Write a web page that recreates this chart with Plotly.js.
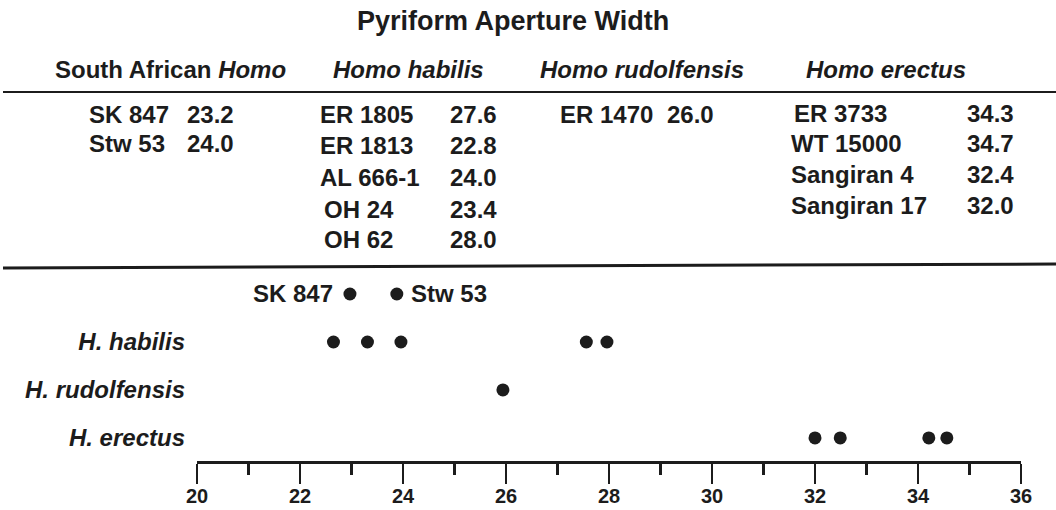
<!DOCTYPE html>
<html>
<head>
<meta charset="utf-8">
<script src="https://cdn.plot.ly/plotly-3.0.1.min.js"></script>
<style>html,body{margin:0;padding:0;background:#fff;}#chart{width:1056px;height:510px;}</style>
</head>
<body>
<div id="chart"></div>
<script>
// ---- Data ----
const chartTitle = 'Pyriform Aperture Width';
const groupHeaders = ['South African <i>Homo</i>', '<i>Homo habilis</i>', '<i>Homo rudolfensis</i>', '<i>Homo erectus</i>'];

const saNames = ['SK 847', 'Stw 53'];
const saValues = ['23.2', '24.0'];
const habilisNames = ['ER 1805', 'ER 1813', 'AL 666-1', 'OH 24', 'OH 62'];
const habilisValues = ['27.6', '22.8', '24.0', '23.4', '28.0'];
const rudolfensisNames = ['ER 1470'];
const rudolfensisValues = ['26.0'];
const erectusNames = ['ER 3733', 'WT 15000', 'Sangiran 4', 'Sangiran 17'];
const erectusValues = ['34.3', '34.7', '32.4', '32.0'];

// dot positions as drawn in the plot
const saDots = [22.97, 23.88];
const habilisDots = [22.65, 23.31, 23.96, 27.56, 27.96];
const rudolfensisDots = [25.94];
const erectusDots = [32.0, 32.49, 34.21, 34.56];

const rowLabels = ['H. habilis', 'H. rudolfensis', 'H. erectus'];
const xTickVals = [20, 22, 24, 26, 28, 30, 32, 34, 36];

// ---- Layout helpers ----
const W = 1056, H = 510;
const px = v => v / W;
const py = v => 1 - v / H;
const ink = '#1c1c1c';
const FONT = 'Liberation Sans, Arial, Helvetica, sans-serif';

const rowY = {SA: 3, habilis: 2, rudolfensis: 1, erectus: 0};

function dotTrace(xs, row) {
  return {
    type: 'scatter', mode: 'markers',
    x: xs, y: xs.map(() => row),
    marker: {size: 13, color: ink},
    hoverinfo: 'x', showlegend: false
  };
}

const data = [
  dotTrace(saDots, rowY.SA),
  dotTrace(habilisDots, rowY.habilis),
  dotTrace(rudolfensisDots, rowY.rudolfensis),
  dotTrace(erectusDots, rowY.erectus)
];

const annotations = [];
function txt(text, x, y, anchor, size, extra) {
  annotations.push(Object.assign({
    text: text, x: px(x), y: py(y), xref: 'paper', yref: 'paper',
    xanchor: anchor, yanchor: 'middle', showarrow: false,
    font: {family: FONT, size: size, color: ink, weight: 'bold'}
  }, extra || {}));
}

// title
txt('<b>' + chartTitle + '</b>', 513, 21, 'center', 27);
// group headers
const headerX = [170, 408, 642, 886];
groupHeaders.forEach((h, i) => txt('<b>' + h + '</b>', headerX[i], 70, 'center', 24));

// table columns
function column(names, values, nameX, valX, ys) {
  names.forEach((n, i) => {
    const nx = Array.isArray(nameX) ? nameX[i] : nameX;
    txt('<b>' + n + '</b>', nx, ys[i], 'left', 24);
    txt('<b>' + values[i] + '</b>', valX, ys[i], 'left', 24);
  });
}
column(saNames, saValues, 87, 185, [115, 143]);
column(habilisNames, habilisValues, [318, 318, 318, 322, 322], 448, [115, 145, 177, 209, 239]);
column(rudolfensisNames, rudolfensisValues, 558, 665, [115]);
column(erectusNames, erectusValues, [792, 789, 789, 789], 965, [113, 143, 174, 205]);

// labels beside the South African dots
annotations.push({
  text: '<b>' + saNames[0] + '</b>', x: saDots[0], y: rowY.SA, xref: 'x', yref: 'y',
  xanchor: 'right', yanchor: 'middle', xshift: -15, showarrow: false,
  font: {family: FONT, size: 24, color: ink}
});
annotations.push({
  text: '<b>' + saNames[1] + '</b>', x: saDots[1], y: rowY.SA, xref: 'x', yref: 'y',
  xanchor: 'left', yanchor: 'middle', xshift: 12, showarrow: false,
  font: {family: FONT, size: 24, color: ink}
});

const layout = {
  width: W, height: H,
  margin: {l: 0, r: 0, t: 0, b: 0},
  paper_bgcolor: '#fff', plot_bgcolor: '#fff',
  showlegend: false,
  font: {family: FONT, color: ink},
  xaxis: {
    domain: [px(197), px(1021)],
    range: [20, 36],
    tickvals: xTickVals,
    ticks: 'outside', ticklen: 20, tickwidth: 2.5, tickcolor: ink,
    showline: true, linewidth: 3, linecolor: ink,
    showgrid: false, zeroline: false,
    ticklabelstandoff: -5,
    tickfont: {family: FONT, size: 20, color: ink, weight: 'bold'},
    minor: {dtick: 1, tick0: 20, ticks: 'outside', ticklen: 11, tickwidth: 2.5, tickcolor: ink, showgrid: false},
    fixedrange: true
  },
  yaxis: {
    domain: [1 - 461 / H, 1 - 270 / H],
    range: [-0.48, 3.5],
    tickvals: [rowY.habilis, rowY.rudolfensis, rowY.erectus],
    ticktext: rowLabels.map(s => '<b><i>' + s + '</i></b>'),
    ticks: '', showline: false, showgrid: false, zeroline: false,
    ticklabelstandoff: 11,
    tickfont: {family: FONT, size: 24, color: ink},
    fixedrange: true
  },
  shapes: [
    {type: 'line', xref: 'paper', yref: 'paper', x0: px(3), x1: px(1056), y0: py(92), y1: py(92),
     line: {color: ink, width: 2}},
    {type: 'line', xref: 'paper', yref: 'paper', x0: px(3), x1: px(1056), y0: py(268), y1: py(264),
     line: {color: ink, width: 3}}
  ],
  annotations: annotations
};

Plotly.newPlot('chart', data, layout, {staticPlot: true, displayModeBar: false});
</script>
</body>
</html>
